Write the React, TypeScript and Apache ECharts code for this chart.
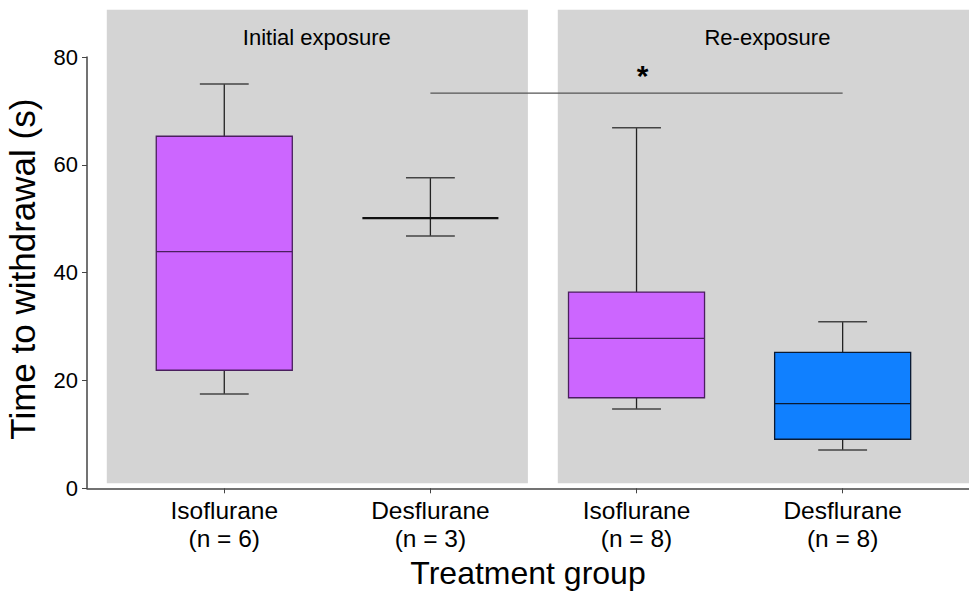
import React, { useEffect, useRef } from "react";
import * as echarts from "echarts";

const categories = ["Isoflurane\n(n = 6)", "Desflurane\n(n = 3)", "Isoflurane\n(n = 8)", "Desflurane\n(n = 8)"];
const positions = [1, 2, 3, 4];
const mins = [17.5, 46.8, 14.7, 7.1];
const q1s = [21.9, 50.1, 16.8, 9.1];
const medians = [43.9, 50.1, 27.8, 15.7];
const q3s = [65.3, 50.1, 36.4, 25.2];
const maxs = [75.0, 57.6, 66.9, 30.9];
const drugs = ["iso", "des", "iso", "des"];
const panelLabels = ["Initial exposure", "Re-exposure"];
const panelRanges = [[0.43, 2.473], [2.618, 4.8]];
const panelLabelX = [1.449, 3.635];
const sigFrom = 2;
const sigTo = 4;
const sigY = 73.3;

const FONT = "'Liberation Sans', Arial, sans-serif";
const FILL: Record<string, string> = { iso: "#CC66FF", des: "#1080FF" };
const BORDER: Record<string, string> = { iso: "#4a1f5e", des: "#0a1a33" };

export default function App() {
  const ref = useRef<HTMLDivElement>(null);
  useEffect(() => {
    if (!ref.current) return;
    const chart = echarts.init(ref.current, null, { renderer: "svg" });
    const boxData = positions.map((p, i) => [p, mins[i], q1s[i], medians[i], q3s[i], maxs[i], i]);
    const panelData = panelRanges.map((r, i) => [r[0], r[1], i]);
    chart.setOption({
      animation: false,
      textStyle: { fontFamily: FONT },
      grid: { left: 87, right: 0, top: 57, bottom: 105.7, containLabel: false, outerBoundsMode: "none" },
      xAxis: {
        type: "value",
        min: 0.334,
        max: 4.613,
        splitLine: { show: false },
        axisLine: { show: true, lineStyle: { color: "#444", width: 1.5 } },
        axisTick: { show: true, customValues: positions, length: 5, lineStyle: { color: "#444" } },
        axisLabel: {
          customValues: positions,
          formatter: (v: number) => categories[Math.round(v) - 1] ?? "",
          fontSize: 24.5,
          lineHeight: 28,
          color: "#000",
          margin: 8,
          fontFamily: FONT,
        },
        name: "Treatment group",
        nameLocation: "middle",
        nameGap: 69,
        nameTextStyle: { fontSize: 32, color: "#000", fontFamily: FONT },
      },
      yAxis: {
        type: "value",
        min: 0,
        max: 80,
        interval: 20,
        splitLine: { show: false },
        axisLine: { show: true, lineStyle: { color: "#444", width: 1.5 } },
        axisTick: { show: true, length: 5, lineStyle: { color: "#444" } },
        axisLabel: { fontSize: 22, color: "#000", margin: 9, fontFamily: FONT },
        name: "Time to withdrawal (s)",
        nameLocation: "middle",
        nameGap: 47,
        nameTextStyle: { fontSize: 35, color: "#000", fontFamily: FONT, padding: [0, 0, 0, 7] },
      },
      series: [
        {
          type: "custom",
          clip: false,
          z: 1,
          data: panelData,
          renderItem: (params: any, api: any) => {
            const x0 = api.value(0);
            const x1 = api.value(1);
            const idx = api.value(2);
            const a = api.coord([x0, 88.78]);
            const b = api.coord([x1, 0.93]);
            const c = api.coord([panelLabelX[idx], 83.7]);
            return {
              type: "group",
              children: [
                { type: "rect", shape: { x: a[0], y: a[1], width: b[0] - a[0], height: b[1] - a[1] }, style: { fill: "#D4D4D4" } },
                {
                  type: "text",
                  x: c[0],
                  y: c[1],
                  style: { text: panelLabels[idx], fontSize: 22, fill: "#000", align: "center", verticalAlign: "middle", fontFamily: FONT },
                },
              ],
            };
          },
        },
        {
          type: "custom",
          clip: false,
          z: 3,
          data: boxData,
          renderItem: (params: any, api: any) => {
            const x = api.value(0);
            const idx = api.value(6);
            const drug = drugs[idx];
            const w = api.size([0.66, 0])[0];
            const cw = api.size([0.237, 0])[0];
            const pMin = api.coord([x, api.value(1)]);
            const pQ1 = api.coord([x, api.value(2)]);
            const pMed = api.coord([x, api.value(3)]);
            const pQ3 = api.coord([x, api.value(4)]);
            const pMax = api.coord([x, api.value(5)]);
            const cx = pMed[0];
            const whisker = { stroke: "#222", lineWidth: 1.3 };
            const cap = { stroke: "#444", lineWidth: 1.5 };
            const children: any[] = [
              { type: "line", shape: { x1: cx, y1: pMax[1], x2: cx, y2: pQ3[1] }, style: whisker },
              { type: "line", shape: { x1: cx, y1: pQ1[1], x2: cx, y2: pMin[1] }, style: whisker },
              { type: "line", shape: { x1: cx - cw / 2, y1: pMax[1], x2: cx + cw / 2, y2: pMax[1] }, style: cap },
              { type: "line", shape: { x1: cx - cw / 2, y1: pMin[1], x2: cx + cw / 2, y2: pMin[1] }, style: cap },
            ];
            const h = pQ1[1] - pQ3[1];
            if (h > 0.5) {
              children.push({
                type: "rect",
                shape: { x: cx - w / 2, y: pQ3[1], width: w, height: h },
                style: { fill: FILL[drug], stroke: BORDER[drug], lineWidth: 1.3 },
              });
              children.push({ type: "line", shape: { x1: cx - w / 2, y1: pMed[1], x2: cx + w / 2, y2: pMed[1] }, style: { stroke: BORDER[drug], lineWidth: 1.3 } });
            } else {
              children.push({ type: "line", shape: { x1: cx - w / 2, y1: pMed[1], x2: cx + w / 2, y2: pMed[1] }, style: { stroke: "#111", lineWidth: 2.3 } });
            }
            return { type: "group", children };
          },
        },
        {
          type: "custom",
          clip: false,
          z: 4,
          data: [[sigFrom, sigTo, sigY]],
          renderItem: (params: any, api: any) => {
            const a = api.coord([api.value(0), api.value(2)]);
            const b = api.coord([api.value(1), api.value(2)]);
            const s = api.coord([(api.value(0) + api.value(1)) / 2 + 0.03, api.value(2) + 3.2]);
            return {
              type: "group",
              children: [
                { type: "line", shape: { x1: a[0], y1: a[1], x2: b[0], y2: b[1] }, style: { stroke: "#555", lineWidth: 1.3 } },
                {
                  type: "text",
                  x: s[0],
                  y: s[1],
                  style: { text: "*", fontSize: 30, fontWeight: "bold", fill: "#000", align: "center", verticalAlign: "middle", fontFamily: FONT },
                },
              ],
            };
          },
        },
      ],
    });
    return () => chart.dispose();
  }, []);
  return <div ref={ref} style={{ width: 969, height: 594, position: "absolute", left: 0, top: 0 }} />;
}
